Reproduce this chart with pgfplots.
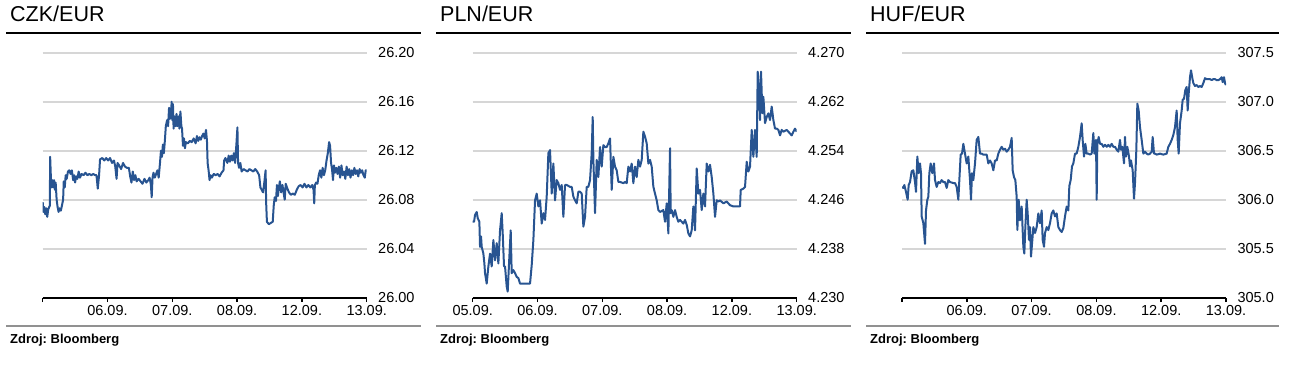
\documentclass[border=0pt]{standalone}
\usepackage{fontspec}
\setmainfont{Liberation Sans}
\usepackage{pgfplots}
\pgfplotsset{compat=1.18}
\definecolor{lineblue}{RGB}{40,84,145}
\definecolor{gridgray}{RGB}{214,214,214}
\definecolor{rulegray}{RGB}{145,145,145}
\newcommand{\titlefont}{\fontsize{21.5}{21.5}\selectfont}
\newcommand{\srcfont}{\fontsize{13}{13}\selectfont\bfseries}
\pgfplotsset{fx/.style={
  scale only axis, width=324pt, height=245pt, anchor=south west,
  axis x line*=bottom, axis y line*=right,
  y axis line style={draw=none},
  x axis line style={-, line width=2pt, black},
  ymajorgrids, grid style={draw=gridgray, line width=1.8pt},
  xtick align=outside, xtick style={black, line width=1.5pt}, major tick length=4.5pt,
  ytick style={draw=none},
  tick label style={font=\fontsize{14.5}{14.5}\selectfont},
  yticklabel style={anchor=west, xshift=8pt},
}}
\pgfplotsset{fxline/.style={draw=lineblue, line width=2pt, line join=round, mark=none}}
\newcommand{\panel}[3]{%
  \node[anchor=base west, inner sep=0pt, font=\titlefont] at (#1+10,344) {#2};
  \draw[line width=2.4pt] (#1+6,333) -- (#3,333);
  \draw[line width=2pt, rulegray] (#1+6,40.3) -- (#3,40.3);
  \node[anchor=base west, inner sep=0pt, font=\srcfont] at (#1+10,22.7) {Zdroj: Bloomberg};
}
\begin{document}
\frenchspacing
\begin{tikzpicture}[x=1pt,y=1pt]
\useasboundingbox (0,0) rectangle (1293,366);
\panel{0}{CZK/EUR}{421}
\panel{430}{PLN/EUR}{851}
\panel{860}{HUF/EUR}{1279}

% CZK/EUR
\begin{axis}[fx, at={(42.7pt,68.3pt)}, xmin=0, xmax=5, ymin=26.00, ymax=26.20,
  xtick={0,1,2,3,4,5}, xticklabels={,06.09.,07.09.,08.09.,12.09.,13.09.},
  ytick={26.00,26.04,26.08,26.12,26.16,26.20},
  yticklabels={26.00,26.04,26.08,26.12,26.16,26.20}]
\addplot[fxline] coordinates {
(0.000,26.078)(0.010,26.070)(0.025,26.074)(0.040,26.068)(0.055,26.073)(0.070,26.066)
(0.085,26.072)(0.100,26.074)(0.110,26.075)(0.115,26.115)(0.125,26.100)(0.135,26.090)
(0.145,26.096)(0.160,26.090)(0.175,26.096)(0.190,26.088)(0.200,26.094)(0.215,26.080)
(0.230,26.074)(0.245,26.070)(0.260,26.073)(0.280,26.071)(0.300,26.076)(0.315,26.080)
(0.325,26.095)(0.340,26.090)(0.355,26.100)(0.370,26.097)(0.390,26.103)(0.410,26.104)
(0.430,26.101)(0.450,26.104)(0.470,26.096)(0.485,26.100)(0.500,26.094)(0.515,26.099)
(0.535,26.097)(0.555,26.103)(0.575,26.098)(0.600,26.101)(0.630,26.100)(0.660,26.102)
(0.690,26.100)(0.720,26.101)(0.750,26.100)(0.780,26.101)(0.810,26.100)(0.830,26.100)
(0.850,26.089)(0.870,26.100)(0.885,26.113)(0.920,26.114)(0.950,26.112)(0.980,26.114)
(1.010,26.112)(1.040,26.114)(1.070,26.110)(1.100,26.112)(1.120,26.107)(1.140,26.097)
(1.155,26.110)(1.180,26.108)(1.210,26.105)(1.240,26.110)(1.270,26.107)(1.300,26.106)
(1.330,26.106)(1.350,26.099)(1.370,26.094)(1.390,26.103)(1.410,26.096)(1.430,26.100)
(1.450,26.095)(1.480,26.097)(1.510,26.095)(1.540,26.093)(1.570,26.097)(1.600,26.094)
(1.630,26.096)(1.650,26.098)(1.670,26.092)(1.682,26.082)(1.695,26.098)(1.710,26.102)
(1.730,26.098)(1.750,26.101)(1.770,26.104)(1.790,26.098)(1.810,26.110)(1.825,26.120)
(1.840,26.115)(1.855,26.125)(1.870,26.118)(1.885,26.128)(1.900,26.140)(1.920,26.145)
(1.935,26.140)(1.950,26.155)(1.965,26.146)(1.980,26.150)(1.990,26.160)(2.000,26.145)
(2.010,26.158)(2.020,26.138)(2.035,26.148)(2.050,26.140)(2.065,26.150)(2.080,26.140)
(2.095,26.148)(2.110,26.138)(2.125,26.152)(2.140,26.140)(2.150,26.138)(2.165,26.124)
(2.180,26.130)(2.195,26.122)(2.210,26.127)(2.240,26.126)(2.270,26.128)(2.300,26.127)
(2.330,26.130)(2.360,26.126)(2.380,26.132)(2.400,26.128)(2.420,26.131)(2.440,26.129)
(2.460,26.132)(2.480,26.134)(2.500,26.130)(2.520,26.137)(2.535,26.128)(2.545,26.110)
(2.560,26.104)(2.575,26.096)(2.590,26.100)(2.610,26.098)(2.640,26.101)(2.670,26.100)
(2.700,26.101)(2.730,26.099)(2.760,26.102)(2.790,26.104)(2.800,26.112)(2.820,26.114)
(2.850,26.110)(2.870,26.116)(2.890,26.111)(2.910,26.116)(2.930,26.112)(2.950,26.118)
(2.970,26.110)(2.990,26.126)(3.005,26.139)(3.015,26.110)(3.030,26.106)(3.050,26.110)
(3.070,26.103)(3.100,26.105)(3.130,26.104)(3.160,26.103)(3.190,26.105)(3.220,26.104)
(3.250,26.103)(3.280,26.105)(3.310,26.103)(3.340,26.100)(3.360,26.090)(3.380,26.088)
(3.400,26.086)(3.420,26.094)(3.440,26.104)(3.448,26.078)(3.460,26.062)(3.490,26.060)
(3.520,26.061)(3.550,26.062)(3.565,26.075)(3.580,26.082)(3.600,26.079)(3.615,26.092)
(3.630,26.083)(3.645,26.090)(3.660,26.095)(3.680,26.086)(3.700,26.092)(3.720,26.085)
(3.735,26.080)(3.750,26.093)(3.770,26.090)(3.800,26.086)(3.830,26.084)(3.860,26.085)
(3.890,26.084)(3.920,26.088)(3.950,26.091)(3.980,26.092)(4.010,26.090)(4.040,26.093)
(4.070,26.090)(4.100,26.092)(4.130,26.090)(4.160,26.092)(4.180,26.088)(4.190,26.077)
(4.200,26.092)(4.220,26.094)(4.240,26.093)(4.260,26.100)(4.280,26.104)(4.300,26.098)
(4.320,26.106)(4.340,26.100)(4.360,26.104)(4.380,26.112)(4.400,26.118)(4.420,26.127)
(4.435,26.124)(4.450,26.110)(4.465,26.105)(4.480,26.096)(4.495,26.108)(4.510,26.102)
(4.530,26.106)(4.550,26.101)(4.570,26.107)(4.590,26.098)(4.610,26.108)(4.630,26.100)
(4.650,26.103)(4.670,26.097)(4.690,26.107)(4.710,26.100)(4.730,26.105)(4.750,26.098)
(4.770,26.104)(4.790,26.100)(4.810,26.106)(4.830,26.101)(4.850,26.104)(4.870,26.099)
(4.890,26.105)(4.910,26.102)(4.930,26.104)(4.950,26.100)(4.970,26.098)(4.985,26.104)
(5.000,26.104)};
\end{axis}

% PLN/EUR
\begin{axis}[fx, at={(472.7pt,68.3pt)}, xmin=0, xmax=972, ymin=4.230, ymax=4.270,
  xtick={0,194.4,388.8,583.2,777.6,972}, xticklabels={05.09.,06.09.,07.09.,08.09.,12.09.,13.09.},
  ytick={4.230,4.238,4.246,4.254,4.262,4.270},
  yticklabels={4.230,4.238,4.246,4.254,4.262,4.270}]
\addplot[fxline] coordinates {
(0,4.2424)(4,4.2424)(7,4.2435)(12,4.2440)(15,4.2430)(20,4.2424)(22,4.2383)(25,4.2400)
(27,4.2383)(32,4.2372)(35,4.2356)(37,4.2340)(42,4.2323)(47,4.2351)(52,4.2372)(57,4.2351)
(62,4.2394)(67,4.2361)(72,4.2389)(77,4.2356)(82,4.2410)(87,4.2438)(90,4.2405)(94,4.2351)
(97,4.2351)(102,4.2318)(105,4.2310)(110,4.2367)(114,4.2410)(117,4.2340)(122,4.2345)
(127,4.2340)(132,4.2334)(137,4.2332)(142,4.2323)(152,4.2323)(162,4.2323)(172,4.2323)
(177,4.2353)(182,4.2394)(187,4.2459)(192,4.2470)(197,4.2449)(202,4.2459)(207,4.2421)
(212,4.2438)(217,4.2427)(222,4.2465)(227,4.2536)(232,4.2541)(237,4.2470)(242,4.2519)
(247,4.2459)(252,4.2492)(257,4.2487)(262,4.2476)(267,4.2484)(272,4.2432)(277,4.2484)
(282,4.2484)(292,4.2481)(297,4.2481)(302,4.2465)(307,4.2459)(312,4.2454)(317,4.2473)
(322,4.2473)(327,4.2470)(332,4.2416)(337,4.2432)(342,4.2481)(347,4.2481)(352,4.2492)
(357,4.2536)(360,4.2595)(362,4.2525)(367,4.2438)(372,4.2525)(377,4.2497)(382,4.2546)
(387,4.2514)(392,4.2549)(397,4.2546)(402,4.2546)(407,4.2552)(412,4.2560)(417,4.2476)
(422,4.2530)(427,4.2514)(432,4.2508)(437,4.2489)(442,4.2489)(452,4.2487)(457,4.2489)
(462,4.2487)(467,4.2514)(472,4.2506)(477,4.2519)(482,4.2487)(487,4.2514)(492,4.2497)
(497,4.2525)(502,4.2514)(507,4.2525)(512,4.2571)(517,4.2563)(522,4.2552)(527,4.2519)
(532,4.2525)(537,4.2514)(542,4.2481)(547,4.2470)(552,4.2459)(557,4.2443)(562,4.2440)
(572,4.2443)(577,4.2424)(582,4.2454)(587,4.2405)(592,4.2544)(594,4.2438)(597,4.2443)
(602,4.2432)(607,4.2443)(612,4.2432)(617,4.2424)(622,4.2427)(627,4.2424)(632,4.2421)
(637,4.2427)(642,4.2419)(647,4.2405)(652,4.2400)(657,4.2410)(662,4.2449)(667,4.2410)
(672,4.2511)(677,4.2470)(682,4.2476)(687,4.2443)(692,4.2470)(697,4.2449)(702,4.2519)
(707,4.2506)(712,4.2517)(717,4.2497)(722,4.2470)(727,4.2432)(732,4.2459)(737,4.2457)
(742,4.2459)(752,4.2454)(762,4.2457)(772,4.2451)(782,4.2449)(792,4.2449)(802,4.2449)
(804,4.2476)(812,4.2478)(817,4.2481)(822,4.2522)(827,4.2506)(832,4.2514)(837,4.2574)
(842,4.2530)(847,4.2574)(852,4.2530)(855,4.2669)(859,4.2639)(862,4.2590)(865,4.2669)
(869,4.2601)(872,4.2628)(877,4.2585)(882,4.2595)(887,4.2601)(892,4.2590)(897,4.2612)
(902,4.2590)(907,4.2576)(912,4.2576)(917,4.2574)(922,4.2565)(927,4.2574)(932,4.2571)
(942,4.2574)(952,4.2568)(957,4.2565)(962,4.2571)(967,4.2576)(972,4.2571)};
\end{axis}

% HUF/EUR
\begin{axis}[fx, at={(902pt,68.3pt)}, xmin=0, xmax=972, ymin=305.0, ymax=307.5,
  xtick={0,194.4,388.8,583.2,777.6,972}, xticklabels={,06.09.,07.09.,08.09.,12.09.,13.09.},
  ytick={305.0,305.5,306.0,306.5,307.0,307.5},
  yticklabels={305.0,305.5,306.0,306.5,307.0,307.5}]
\addplot[fxline] coordinates {
(0,306.13)(4,306.12)(7,306.15)(12,306.08)(17,306.00)(20,306.15)(24,306.18)(29,306.29)
(34,306.30)(39,306.18)(42,306.08)(46,306.44)(50,306.27)(54,306.37)(57,306.27)(59,305.83)
(64,305.76)(69,305.55)(72,305.89)(76,306.00)(79,306.03)(82,306.27)(86,306.37)(91,306.27)
(96,306.37)(99,306.20)(104,306.13)(109,306.18)(114,306.17)(119,306.20)(124,306.18)
(129,306.18)(134,306.12)(139,306.20)(144,306.18)(154,306.17)(159,306.17)(164,306.13)
(169,306.00)(172,306.20)(176,306.46)(180,306.47)(184,306.57)(189,306.47)(194,306.37)
(199,306.44)(204,306.20)(207,306.00)(210,306.27)(214,306.20)(219,306.37)(224,306.61)
(229,306.64)(234,306.47)(239,306.47)(244,306.46)(249,306.46)(254,306.46)(259,306.37)
(264,306.40)(269,306.37)(274,306.30)(279,306.40)(284,306.40)(289,306.47)(294,306.51)
(299,306.54)(304,306.51)(309,306.52)(314,306.49)(319,306.51)(324,306.54)(329,306.63)
(332,306.30)(336,306.23)(340,306.20)(344,306.03)(346,305.69)(350,306.00)(354,305.79)
(359,305.93)(364,305.52)(367,305.45)(370,305.72)(374,306.00)(377,305.86)(381,305.59)
(384,305.72)(387,305.42)(391,305.59)(394,305.72)(399,305.66)(404,305.72)(409,305.86)
(414,305.76)(419,305.89)(422,305.59)(426,305.52)(429,305.66)(434,305.72)(439,305.69)
(444,305.76)(449,305.86)(454,305.89)(459,305.83)(464,305.86)(469,305.72)(474,305.69)
(479,305.67)(484,305.71)(489,305.83)(494,305.93)(499,305.89)(502,306.14)(506,306.20)
(510,306.34)(514,306.37)(519,306.47)(524,306.47)(529,306.54)(534,306.64)(539,306.78)
(542,306.61)(546,306.44)(550,306.57)(554,306.47)(559,306.47)(564,306.46)(569,306.47)
(574,306.68)(577,306.47)(580,306.57)(582,306.61)(584,306.00)(586,306.57)(590,306.64)
(594,306.57)(599,306.57)(604,306.54)(609,306.56)(614,306.54)(619,306.56)(624,306.54)
(629,306.57)(634,306.54)(639,306.54)(644,306.51)(649,306.49)(654,306.61)(657,306.51)
(661,306.54)(666,306.37)(669,306.64)(672,306.44)(676,306.54)(681,306.44)(684,306.34)
(687,306.40)(692,306.30)(696,306.01)(699,306.17)(703,306.51)(706,306.98)(710,306.91)
(714,306.74)(719,306.61)(724,306.47)(729,306.49)(734,306.47)(739,306.46)(744,306.47)
(749,306.49)(752,306.64)(756,306.47)(759,306.47)(764,306.46)(774,306.47)(784,306.46)
(794,306.47)(799,306.54)(804,306.57)(809,306.61)(814,306.66)(819,306.74)(824,306.91)
(827,306.61)(830,306.47)(834,306.78)(839,306.91)(842,307.02)(846,307.03)(850,307.12)
(854,307.15)(857,306.91)(860,307.08)(864,307.25)(867,307.32)(871,307.24)(874,307.19)
(879,307.16)(884,307.17)(889,307.15)(894,307.16)(899,307.15)(904,307.19)(909,307.24)
(914,307.23)(919,307.23)(924,307.23)(929,307.22)(934,307.23)(939,307.23)(944,307.22)
(949,307.22)(954,307.23)(959,307.25)(962,307.20)(966,307.25)(969,307.19)(972,307.17)};
\end{axis}
\end{tikzpicture}
\end{document}
